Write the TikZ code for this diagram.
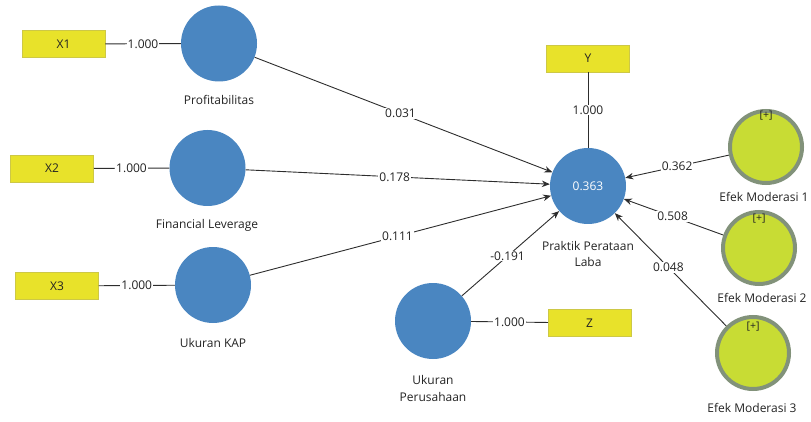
\documentclass[tikz,border=0pt]{standalone}
\usepackage{fontspec}
\setmainfont{Open Sans}
\usetikzlibrary{arrows.meta}
\definecolor{lvblue}{RGB}{74,134,193}
\definecolor{indyel}{RGB}{232,226,42}
\definecolor{indedge}{RGB}{205,200,70}
\definecolor{modfill}{RGB}{200,220,52}
\definecolor{modedge}{RGB}{130,146,122}
\definecolor{txt}{RGB}{35,35,35}
\definecolor{ln}{RGB}{45,45,45}
\begin{document}
\begin{tikzpicture}[x=1pt,y=-1pt,
 lv/.style={circle,fill=lvblue,minimum size=76pt,inner sep=0pt},
 modc/.style={circle,fill=modfill,draw=modedge,line width=4pt,minimum size=72pt,inner sep=0pt},
 ind/.style={rectangle,fill=indyel,draw=indedge,line width=0.5pt,minimum width=83pt,minimum height=27pt,inner sep=0pt,font=\fontsize{12}{13}\selectfont,text=txt},
 lbl/.style={font=\fontsize{12}{16.5}\selectfont,text=txt,align=center,inner sep=0pt},
 plus/.style={font=\fontsize{10.5}{11}\selectfont,text=txt,inner sep=0pt},
 coef/.style={fill=white,inner sep=1pt,font=\fontsize{12}{13}\selectfont,text=txt},
 link/.style={draw=ln,line width=0.9pt},
 pth/.style={link,-{Stealth[length=8pt,width=6.5pt]}}
]
\useasboundingbox (0,0) rectangle (811,422);
% indicators
\node[ind] (x1) at (63.5,44) {X1};
\node[ind] (x2) at (52,168.5) {X2};
\node[ind] (x3) at (57,286) {X3};
\node[ind] (y) at (588,58.5) {Y};
\node[ind] (z) at (589.5,323) {Z};
% latent variables
\node[lv] (prof) at (219,43.5) {};
\node[lbl] (profl) at (219,100) {Profitabilitas};
\node[lv] (fl) at (207.5,168) {};
\node[lbl] (fll) at (207,225) {Financial Leverage};
\node[lv] (kap) at (213,285) {};
\node[lbl] (kapl) at (213,343) {Ukuran KAP};
\node[lv,font=\fontsize{12}{13}\selectfont,text=white] (ppl) at (588,186) {0.363};
\node[lbl] (ppll) at (588,254) {Praktik Perataan\\Laba};
\node[lv] (up) at (433,321) {};
\node[lbl] (upl) at (433,388.5) {Ukuran\\Perusahaan};
% moderating effects
\node[modc] (m1) at (766,147) {};
\node[plus] (p1) at (766,116) {[+]};
\node[lbl] (m1l) at (764,197) {Efek Moderasi 1};
\node[modc] (m2) at (759,248) {};
\node[plus] (p2) at (759,219) {[+]};
\node[lbl] (m2l) at (762,298) {Efek Moderasi 2};
\node[modc] (m3) at (753,353) {};
\node[plus] (p3) at (753,327) {[+]};
\node[lbl] (m3l) at (752,408) {Efek Moderasi 3};
% outer loadings
\draw[link] (x1) -- node[coef]{1.000} (prof);
\draw[link] (x2) -- node[coef]{1.000} (fl);
\draw[link] (x3) -- node[coef]{1.000} (kap);
\draw[link] (up) -- node[coef]{1.000} (z);
\draw[link] (y) -- node[coef]{1.000} (ppl);
% path coefficients
\draw[pth] (prof) -- node[coef,pos=0.49]{0.031} (ppl);
\draw[pth] (fl) -- node[coef,pos=0.49]{0.178} (ppl);
\draw[pth] (kap) -- node[coef,pos=0.49]{0.111} (ppl);
\draw[pth] (up) -- node[coef,pos=0.47]{-0.191} (ppl);
\draw[pth] (m1) -- node[coef,pos=0.5]{0.362} (ppl);
\draw[pth] (m2) -- node[coef,pos=0.51]{0.508} (ppl);
\draw[pth] (m3) -- node[coef,pos=0.52]{0.048} (ppl);
\end{tikzpicture}
\end{document}
